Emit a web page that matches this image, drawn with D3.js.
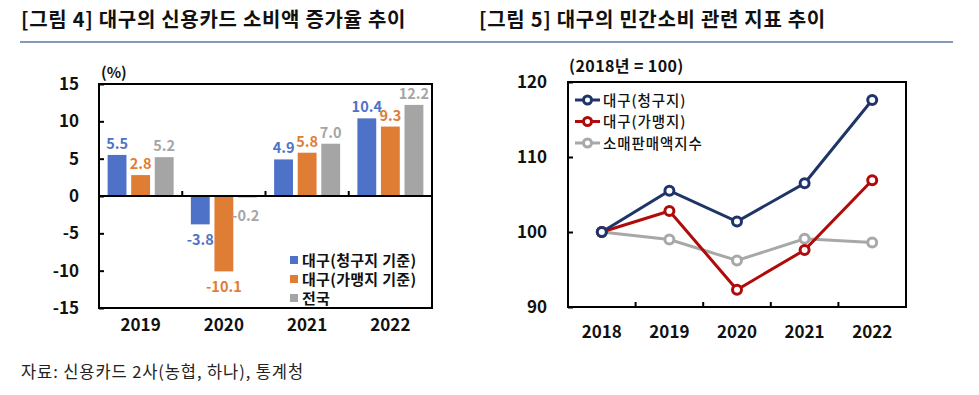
<!DOCTYPE html>
<html>
<head>
<meta charset="utf-8">
<script src="https://cdn.jsdelivr.net/npm/d3@7"></script>
<style>
  body { margin: 0; background: #fff; }
  svg { display: block; font-family: "Noto Sans CJK KR", "Noto Sans", sans-serif; }
</style>
</head>
<body>
<svg></svg>
<script>
// left chart: card spending growth (%)
const barYears = ["2019", "2020", "2021", "2022"];
const barSeries = ["대구(청구지 기준)", "대구(가맹지 기준)", "전국"];
const billing = [5.5, -3.8, 4.9, 10.4];
const merchant = [2.8, -10.1, 5.8, 9.3];
const nation = [5.2, -0.2, 7.0, 12.2];
const barTicks = [15, 10, 5, 0, -5, -10, -15];
const barColors = ["#4f72c9", "#e07d35", "#a5a5a5"];

// right chart: index (2018 = 100)
const lineYears = ["2018", "2019", "2020", "2021", "2022"];
const lineSeries = ["대구(청구지)", "대구(가맹지)", "소매판매액지수"];
const daeguBill = [100, 105.5, 101.4, 106.5, 117.6];
const daeguMerch = [100, 102.8, 92.3, 97.6, 106.9];
const retail = [100, 99.0, 96.2, 99.1, 98.6];
const lineTicks = [120, 110, 100, 90];
const lineColors = ["#1f3468", "#b00a0a", "#a8a8a8"];

const width = 979;
const height = 395;
const svg = d3.select("svg").attr("width", width).attr("height", height);

// titles
svg.append("line")
  .attr("x1", 20).attr("x2", 953).attr("y1", 42).attr("y2", 42)
  .attr("stroke", "#8799b8").attr("stroke-width", 2);

svg.append("text").attr("x", 21).attr("y", 27)
  .attr("font-size", 20).attr("font-weight", 700).attr("fill", "#111")
  .attr("letter-spacing", 0.7)
  .text("[그림 4] 대구의 신용카드 소비액 증가율 추이");
svg.append("text").attr("x", 479).attr("y", 27)
  .attr("font-size", 20).attr("font-weight", 700).attr("fill", "#111")
  .attr("letter-spacing", 0.7)
  .text("[그림 5] 대구의 민간소비 관련 지표 추이");

svg.append("text").attr("x", 21).attr("y", 378)
  .attr("font-size", 16.5).attr("fill", "#222").attr("letter-spacing", 0.9)
  .text("자료: 신용카드 2사(농협, 하나), 통계청");

// ---------- bar chart ----------
const bx = d3.scaleBand().domain(barYears).range([99, 432]);
const bInner = d3.scaleBand().domain(barSeries).range([-33, 33]).paddingInner(0.2);
const by = d3.scaleLinear().domain([-15, 15]).range([308, 84]);

const barData = [];
[billing, merchant, nation].forEach((vals, s) => {
  vals.forEach((v, i) => barData.push({ year: barYears[i], series: barSeries[s], s: s, value: v }));
});

const barLeft = (d) => bx(d.year) + bx.bandwidth() / 2 + bInner(d.series);

const bars = svg.append("g");
bars.selectAll("rect")
  .data(barData)
  .enter()
  .append("rect")
  .attr("x", barLeft)
  .attr("width", bInner.bandwidth())
  .attr("y", (d) => by(Math.max(0, d.value)))
  .attr("height", (d) => Math.abs(by(d.value) - by(0)))
  .attr("fill", (d) => barColors[d.s]);

// the tiny negative grey bar gets its label beside it, the others centred
const besideBar = (d) => d.value < 0 && d.value > -1;

bars.selectAll("text")
  .data(barData)
  .enter()
  .append("text")
  .attr("x", (d) => (besideBar(d) ? barLeft(d) - 6 : barLeft(d) + bInner.bandwidth() / 2))
  .attr("y", (d) => {
    if (d.value >= 0) return by(d.value) - 6;
    if (besideBar(d)) return by(d.value) + 24;
    return by(d.value) + 21;
  })
  .attr("text-anchor", (d) => (besideBar(d) ? "start" : "middle"))
  .attr("font-size", 14.5)
  .attr("font-weight", 700)
  .attr("fill", (d) => barColors[d.s])
  .text((d) => d3.format(".1f")(d.value).replace("−", "-"));

// frame
svg.append("rect")
  .attr("x", 99).attr("y", by(15)).attr("width", 333).attr("height", by(-15) - by(15))
  .attr("fill", "none").attr("stroke", "#000").attr("stroke-width", 2);
svg.append("line")
  .attr("x1", 99).attr("x2", 432).attr("y1", by(0)).attr("y2", by(0))
  .attr("stroke", "#000").attr("stroke-width", 2);

// y axis
const byAxis = svg.append("g").attr("transform", "translate(99,0)")
  .call(d3.axisLeft(by).tickValues(barTicks).tickSize(-5).tickPadding(20)
    .tickFormat((d) => String(d)));
byAxis.select(".domain").remove();
byAxis.selectAll("line").attr("stroke-width", 2);
byAxis.selectAll("text").attr("font-size", 17).attr("font-weight", 700)
  .attr("fill", "#111").attr("font-family", "'Noto Sans CJK KR', sans-serif");

// category boundary ticks on the zero line
svg.append("g").selectAll("line")
  .data(barYears.slice(1))
  .enter()
  .append("line")
  .attr("x1", (d) => bx(d)).attr("x2", (d) => bx(d))
  .attr("y1", by(0)).attr("y2", by(0) - 5)
  .attr("stroke", "#000").attr("stroke-width", 2);

svg.append("g").selectAll("text")
  .data(barYears)
  .enter()
  .append("text")
  .attr("x", (d) => bx(d) + bx.bandwidth() / 2)
  .attr("y", 331)
  .attr("text-anchor", "middle")
  .attr("font-size", 17).attr("font-weight", 700).attr("fill", "#111")
  .text((d) => d);

svg.append("text").attr("x", 101).attr("y", 78)
  .attr("font-size", 15).attr("font-weight", 700).attr("fill", "#111").text("(%)");

// legend
const bLegend = svg.append("g").selectAll("g")
  .data(barSeries)
  .enter()
  .append("g")
  .attr("transform", (d, i) => "translate(290," + (260 + i * 19) + ")");
bLegend.append("rect").attr("x", 0).attr("y", -4).attr("width", 8).attr("height", 8)
  .attr("fill", (d, i) => barColors[i]);
bLegend.append("text").attr("x", 12).attr("y", 5.5)
  .attr("font-size", 15).attr("font-weight", 700).attr("fill", "#111")
  .attr("letter-spacing", 0.3)
  .text((d) => d);

// ---------- line chart ----------
const lx = d3.scaleBand().domain(lineYears).range([568, 906]);
const ly = d3.scaleLinear().domain([90, 120]).range([307, 82]);

svg.append("rect")
  .attr("x", 568).attr("y", ly(120)).attr("width", 338).attr("height", ly(90) - ly(120))
  .attr("fill", "none").attr("stroke", "#000").attr("stroke-width", 2);

const lyAxis = svg.append("g").attr("transform", "translate(568,0)")
  .call(d3.axisLeft(ly).tickValues(lineTicks).tickSize(-5).tickPadding(21));
lyAxis.select(".domain").remove();
lyAxis.selectAll("line").attr("stroke-width", 2);
lyAxis.selectAll("text").attr("font-size", 17).attr("font-weight", 700)
  .attr("fill", "#111").attr("font-family", "'Noto Sans CJK KR', sans-serif");

svg.append("g").selectAll("line")
  .data(lineYears.slice(1))
  .enter()
  .append("line")
  .attr("x1", (d) => lx(d)).attr("x2", (d) => lx(d))
  .attr("y1", ly(90)).attr("y2", ly(90) - 5)
  .attr("stroke", "#000").attr("stroke-width", 2);

svg.append("g").selectAll("text")
  .data(lineYears)
  .enter()
  .append("text")
  .attr("x", (d) => lx(d) + lx.bandwidth() / 2)
  .attr("y", 338)
  .attr("text-anchor", "middle")
  .attr("font-size", 17).attr("font-weight", 700).attr("fill", "#111")
  .text((d) => d);

svg.append("text").attr("x", 569).attr("y", 72)
  .attr("font-size", 16).attr("font-weight", 700).attr("fill", "#111")
  .attr("xml:space", "preserve").attr("letter-spacing", 0.4)
  .text("(2018년 = 100)");

const lineData = [daeguBill, daeguMerch, retail];
const lineGen = d3.line()
  .x((d, i) => lx(lineYears[i]) + lx.bandwidth() / 2)
  .y((d) => ly(d));

// draw gray first so the Daegu lines sit on top
[2, 1, 0].forEach((s) => {
  const g = svg.append("g");
  g.append("path")
    .attr("d", lineGen(lineData[s]))
    .attr("fill", "none")
    .attr("stroke", lineColors[s])
    .attr("stroke-width", 3);
  g.selectAll("circle")
    .data(lineData[s])
    .enter()
    .append("circle")
    .attr("cx", (d, i) => lx(lineYears[i]) + lx.bandwidth() / 2)
    .attr("cy", (d) => ly(d))
    .attr("r", 4.5)
    .attr("fill", "#fff")
    .attr("stroke", lineColors[s])
    .attr("stroke-width", 3);
});

const lLegend = svg.append("g").selectAll("g")
  .data(lineSeries)
  .enter()
  .append("g")
  .attr("transform", (d, i) => "translate(575," + (100 + i * 21.5) + ")");
lLegend.append("line").attr("x1", 0).attr("x2", 25).attr("y1", 0).attr("y2", 0)
  .attr("stroke", (d, i) => lineColors[i]).attr("stroke-width", 3);
lLegend.append("circle").attr("cx", 12.5).attr("cy", 0).attr("r", 4)
  .attr("fill", "#fff").attr("stroke", (d, i) => lineColors[i]).attr("stroke-width", 3);
lLegend.append("text").attr("x", 28).attr("y", 5.5)
  .attr("font-size", 14.5).attr("font-weight", 500).attr("fill", "#111")
  .attr("letter-spacing", 0.9)
  .text((d) => d);
</script>
</body>
</html>
